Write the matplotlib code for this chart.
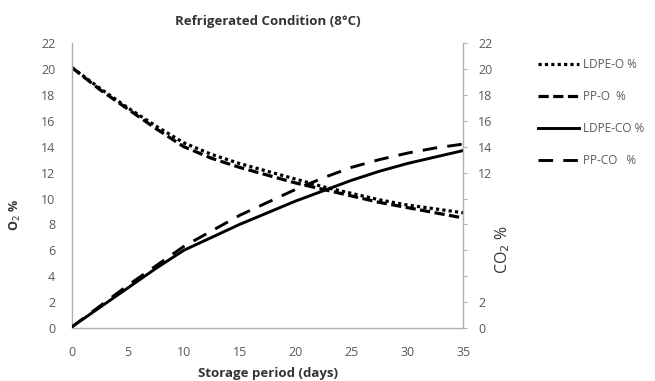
import matplotlib
matplotlib.use("Agg")
import matplotlib.pyplot as plt

days = [0, 2.5, 5, 7.5, 10, 12.5, 15, 17.5, 20, 22.5, 25, 27.5, 30, 32.5, 35]
ldpe_o = [20.1, 18.5, 17.0, 15.6, 14.3, 13.4, 12.7, 12.1, 11.5, 10.9, 10.4, 9.9, 9.5, 9.2, 8.9]
pp_o = [20.1, 18.4, 16.9, 15.4, 14.0, 13.1, 12.4, 11.8, 11.2, 10.7, 10.2, 9.7, 9.3, 8.9, 8.5]
ldpe_co = [0.1, 1.6, 3.1, 4.6, 6.0, 7.0, 8.0, 8.9, 9.8, 10.6, 11.4, 12.1, 12.7, 13.2, 13.7]
pp_co = [0.1, 1.7, 3.3, 4.8, 6.3, 7.5, 8.7, 9.7, 10.7, 11.6, 12.4, 13.0, 13.5, 13.9, 14.2]
x_ticks = [0, 5, 10, 15, 20, 25, 30, 35]
y_ticks = [0, 2, 4, 6, 8, 10, 12, 14, 16, 18, 20, 22]
right_labels = ['0', '2', '', '', '', '', '12', '14', '16', '18', '20', '22']

plt.rcParams['font.family'] = ['Open Sans', 'DejaVu Sans']
gray = '#595959'
spine = '#b0b0b0'

fig = plt.figure(figsize=(6.55, 3.81), dpi=100)
ax = fig.add_axes([0.110, 0.139, 0.597, 0.748])
ax2 = ax.twinx()

l1, = ax.plot(days, ldpe_o, color='black', lw=2.3, linestyle=(0, (1, 1)), label='LDPE-O %')
l2, = ax.plot(days, pp_o, color='black', lw=2.3, linestyle=(0, (3.2, 1.4)), label='PP-O  %')
l3, = ax2.plot(days, ldpe_co, color='black', lw=2.1, linestyle='-', label='LDPE-CO %')
l4, = ax2.plot(days, pp_co, color='black', lw=2.1, linestyle=(0, (5, 3.5)), label='PP-CO   %')

for a in (ax, ax2):
    a.set_xlim(0, 35)
    a.set_ylim(0, 22)
    a.set_yticks(y_ticks)
    a.spines['top'].set_visible(False)
    for s in a.spines.values():
        s.set_color(spine)
        s.set_linewidth(1.0)
ax2.set_yticklabels(right_labels)
ax.set_xticks(x_ticks)
ax.tick_params(axis='x', length=0, colors=gray, labelsize=9, pad=13)
ax.tick_params(axis='y', length=0, colors=gray, labelsize=9, pad=12)
ax2.tick_params(axis='y', length=3, color=spine, colors=gray, labelsize=9, pad=8)
ax.spines['right'].set_visible(False)
ax2.spines['left'].set_visible(False)
ax2.spines['bottom'].set_visible(False)

ax.set_title('Refrigerated Condition (8°C)', fontsize=9.5, fontweight='bold', color='#333333', pad=13)
ax.set_xlabel('Storage period (days)', fontsize=9.5, fontweight='bold', color='#333333', labelpad=6)
fig.text(0.024, 0.436, 'O$_2$ %', rotation=90, ha='center', va='center', fontsize=9, fontweight='bold', color='#333333')
fig.text(0.768, 0.345, 'CO$_2$ %', rotation=90, ha='center', va='center', fontsize=11.5, color='#333333')

fig.legend(handles=[l1, l2, l3, l4], loc='upper left', bbox_to_anchor=(0.805, 0.875),
           frameon=False, fontsize=8.5, handlelength=3.5, labelspacing=1.6,
           handletextpad=0.35, labelcolor=gray)

fig.savefig('out.png', dpi=100)
